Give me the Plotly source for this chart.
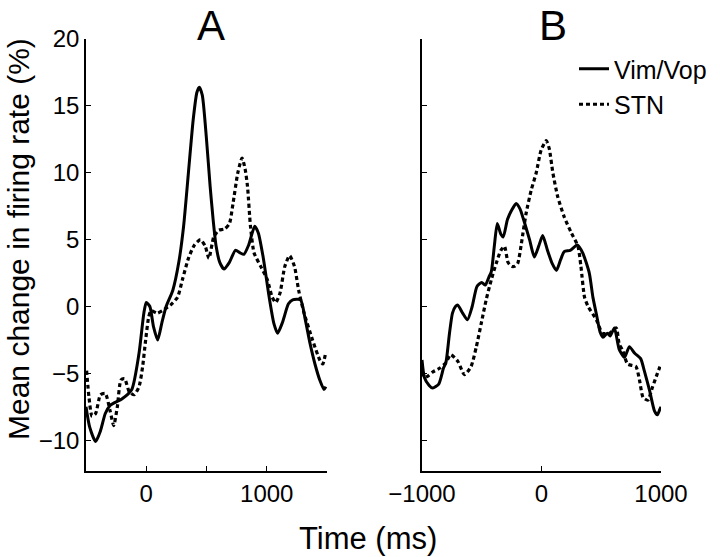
import plotly.graph_objects as go

# ---------------- data ----------------
a_vim_t = [-500, -470, -420, -380, -340, -300, -200, -120, -60, -20, 0, 30, 60, 95, 130, 165, 220, 270, 310, 350,
           390, 420, 440, 465, 500, 530, 555, 580, 610, 645, 690, 740, 780, 810, 850, 900, 930, 970, 1020, 1060,
           1090, 1130, 1180, 1215, 1280, 1320, 1360, 1400, 1440, 1475, 1490]
a_vim_v = [-7.5, -9.0, -10.1, -9.3, -8.0, -7.4, -6.9, -6.2, -3.5, -0.5, 0.3, 0.0, -1.5, -2.5, -1.2, 0.0, 1.2, 3.3, 6.0, 10.0,
           14.0, 16.0, 16.4, 15.8, 12.5, 9.0, 6.5, 4.5, 3.3, 2.8, 3.3, 4.2, 4.0, 3.9, 4.6, 6.0, 5.5, 3.7, 0.7, -1.3,
           -2.0, -1.2, 0.2, 0.5, 0.5, -1.0, -2.8, -4.3, -5.5, -6.2, -6.0]

a_stn_t = [-495, -475, -450, -420, -380, -340, -300, -270, -240, -210, -180, -140, -100, -60, -30, -5, 20, 40, 90, 135,
           200, 260, 300, 350, 400, 450, 490, 520, 560, 600, 650, 690, 720, 760, 795, 820, 840, 865, 895, 950,
           1005, 1045, 1075, 1110, 1150, 1190, 1230, 1265, 1310, 1380, 1440, 1465, 1490]
a_stn_v = [-4.8, -6.8, -8.2, -8.0, -6.6, -6.5, -7.8, -8.9, -7.5, -5.5, -5.4, -6.4, -6.6, -6.0, -4.5, -2.5, -0.8, -0.3, -0.5, -0.3,
           0.1, 0.7, 2.0, 3.6, 4.6, 5.0, 4.5, 3.6, 5.2, 5.7, 5.8, 6.2, 7.7, 10.0, 11.1, 10.3, 9.0, 6.0, 4.0, 3.0,
           2.0, 0.7, 0.3, 1.0, 3.0, 3.8, 3.0, 1.2, -0.5, -2.5, -4.0, -4.3, -3.4]

b_vim_t = [-1000, -980, -940, -910, -860, -820, -800, -770, -745, -720, -700, -660, -620, -580, -540, -500, -470, -440,
           -420, -395, -370, -340, -320, -285, -250, -212, -180, -150, -100, -60, -20, 10, 50, 90, 125, 160, 190,
           240, 300, 345, 400, 430, 460, 490, 515, 550, 575, 610, 650, 695, 735, 780, 830, 860, 905, 945, 970,
           990, 1000]
b_vim_v = [-4.0, -5.3, -5.9, -6.1, -5.8, -4.6, -4.2, -2.0, -0.5, 0.0, 0.1, -0.5, -1.0, 0.0, 1.5, 1.8, 1.6, 2.2,
           2.6, 4.5, 6.2, 5.4, 5.2, 6.5, 7.2, 7.7, 7.3, 6.5, 5.0, 3.7, 4.6, 5.3, 4.2, 3.2, 2.7, 3.5, 4.1,
           4.2, 4.6, 4.0, 2.5, 0.7, -0.6, -1.9, -2.3, -2.0, -2.2, -1.6, -3.2, -3.8, -3.0, -3.5, -3.9, -4.8, -6.3, -7.8, -8.1,
           -7.7, -7.5]

b_stn_t = [-1000, -980, -950, -910, -850, -800, -760, -700, -645, -590, -545, -505, -463, -420, -380, -340, -310, -280,
           -250, -225, -200, -170, -155, -128, -86, -44, -3, 40, 65, 95, 136, 190, 250, 305, 330, 360, 390, 460,
           510, 570, 625, 650, 680, 720, 790, 820, 850, 890, 930, 970, 1000]
b_stn_v = [-4.4, -5.3, -5.2, -4.9, -4.6, -4.2, -3.6, -4.1, -5.1, -4.5, -3.0, -1.3, 0.5, 2.0, 3.2, 4.2, 4.5, 3.3,
           3.0, 3.0, 3.2, 4.6, 5.5, 7.0, 8.7, 10.0, 11.7, 12.4, 11.8, 10.0, 8.2, 6.7, 5.5, 4.5, 3.0, 0.7, 0.0, -1.0,
           -2.0, -2.0, -1.6, -2.8, -3.3, -4.3, -4.5, -5.5, -6.8, -7.0, -6.0, -5.0, -4.3]

series_names = ["Vim/Vop", "STN"]
panel_titles = ["A", "B"]
y_ticks = [-10, -5, 0, 5, 10, 15, 20]
a_x_ticks = [0, 500, 1000]
a_x_ticktext = ["0", "", "1000"]
b_x_ticks = [-1000, 0, 1000]

# ---------------- figure ----------------
FONT = "Liberation Sans, Arial, Helvetica, sans-serif"
solid = dict(color="black", width=3, shape="spline", smoothing=0.6)
dotted = dict(color="black", width=3.2, dash="4px,3px", shape="spline", smoothing=0.6)

fig = go.Figure()
fig.add_trace(go.Scatter(x=a_vim_t, y=a_vim_v, mode="lines", line=solid, name=series_names[0],
                         xaxis="x", yaxis="y", showlegend=False))
fig.add_trace(go.Scatter(x=a_stn_t, y=a_stn_v, mode="lines", line=dotted, name=series_names[1],
                         xaxis="x", yaxis="y", showlegend=False))
fig.add_trace(go.Scatter(x=b_vim_t, y=b_vim_v, mode="lines", line=solid, name=series_names[0],
                         xaxis="x2", yaxis="y2", showlegend=True))
fig.add_trace(go.Scatter(x=b_stn_t, y=b_stn_v, mode="lines", line=dotted, name=series_names[1],
                         xaxis="x2", yaxis="y2", showlegend=True))

W, H = 720, 557
yd = [1 - 471 / H, 1 - 39 / H]
axis_common = dict(showline=True, linecolor="black", linewidth=1.5, ticks="inside", ticklen=5,
                   tickcolor="black", tickwidth=1.2, showgrid=False, zeroline=False, automargin=False,
                   tickfont=dict(family=FONT, size=24, color="black"), mirror=False)


def label(text, px, py, size, angle=0, yanchor="middle"):
    return dict(text=text, x=px / W, y=1 - py / H, xref="paper", yref="paper",
                xanchor="center", yanchor=yanchor, textangle=angle, showarrow=False,
                font=dict(family=FONT, size=size, color="black"))


fig.update_layout(
    width=W, height=H,
    margin=dict(l=0, r=0, t=0, b=0, autoexpand=False),
    paper_bgcolor="white", plot_bgcolor="white",
    font=dict(family=FONT, color="black"),
    xaxis=dict(domain=[86 / W, 327 / W], range=[-500, 1500], anchor="y",
               tickvals=a_x_ticks, ticktext=a_x_ticktext, **axis_common),
    yaxis=dict(domain=yd, range=[-12.3, 20], anchor="x", tickvals=y_ticks, **axis_common),
    xaxis2=dict(domain=[422 / W, 661 / W], range=[-1000, 1000], anchor="y2",
                tickvals=b_x_ticks, **axis_common),
    yaxis2=dict(domain=yd, range=[-12.3, 20], anchor="x2", tickvals=y_ticks,
                showticklabels=False, **axis_common),
    legend=dict(x=574 / W, y=1 - 46 / H, xanchor="left", yanchor="top",
                font=dict(family=FONT, size=25, color="black"),
                bgcolor="rgba(0,0,0,0)", tracegroupgap=0, itemwidth=30),
    annotations=[
        label(panel_titles[0], 211, 0, 42, yanchor="top"),
        label(panel_titles[1], 553, 0, 42, yanchor="top"),
        label("Mean change in firing rate (%)", 18, 239, 30, angle=-90),
        label("Time (ms)", 368, 538, 31),
    ],
)

fig.write_html("out.html", post_script="document.body.style.margin='0';",
               config={"displayModeBar": False})
